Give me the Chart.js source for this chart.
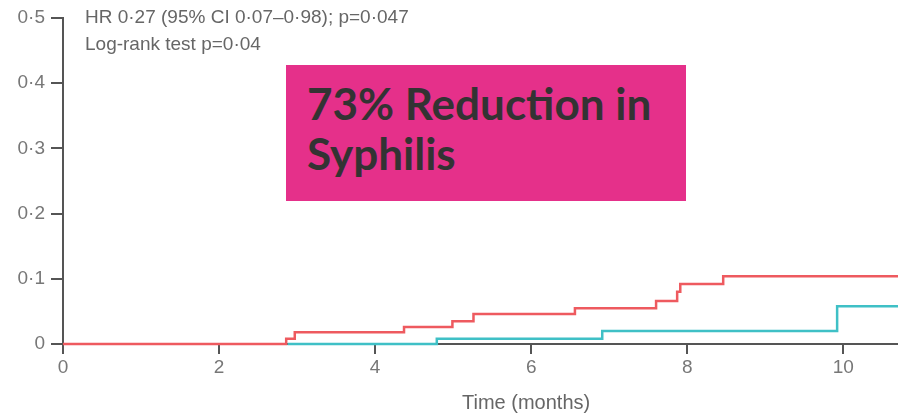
<!DOCTYPE html>
<html>
<head>
<meta charset="utf-8">
<script src="https://cdn.jsdelivr.net/npm/chart.js@4.4.1/dist/chart.umd.min.js"></script>
<style>
  html, body { margin: 0; padding: 0; background: #fff; }
  #wrap { position: relative; width: 898px; height: 414px; overflow: hidden; }
  .note { position: absolute; font-family: "Liberation Sans", Arial, sans-serif; font-size: 19px; color: #666; white-space: nowrap; line-height: 26px; }
  #box { position: absolute; left: 286px; top: 65px; width: 400px; height: 136px; background: #e5308a;
         box-sizing: border-box; padding: 13px 0 0 21px; font-family: Lato, sans-serif; font-weight: 700;
         font-size: 44px; line-height: 50px; color: #333; }
</style>
</head>
<body>
<div id="wrap">
  <canvas id="km" width="898" height="414"></canvas>
  <div class="note" style="left:85px; top:4px;">HR 0·27 (95% CI 0·07–0·98); p=0·047</div>
  <div class="note" style="left:85px; top:31px;">Log-rank test p=0·04</div>
  <div class="note" style="left:462px; top:389px; font-size:20px;">Time (months)</div>
  <div id="box">73% Reduction in<br>Syphilis</div>
</div>
<script>
// tick values and labels
const xTicks = [0, 2, 4, 6, 8, 10];
const yTicks = [0, 0.1, 0.2, 0.3, 0.4, 0.5];
const yTickLabels = ['0', '0·1', '0·2', '0·3', '0·4', '0·5'];

// step curves: time (months) and cumulative incidence after each step
const redTimes = [0, 2.86, 2.97, 4.37, 4.99, 5.26, 6.56, 7.60, 7.87, 7.91, 8.46, 10.7];
const redValues = [0, 0.008, 0.018, 0.026, 0.035, 0.046, 0.055, 0.066, 0.080, 0.092, 0.104, 0.104];
const tealTimes = [2.88, 4.79, 6.91, 9.92, 10.7];
const tealValues = [0, 0.008, 0.020, 0.058, 0.058];

const toPoints = (xs, ys) => xs.map((x, i) => ({ x: x, y: ys[i] }));
const axisColor = '#555';
const tickFont = { family: '"Liberation Sans", Arial, sans-serif', size: 19 };

new Chart(document.getElementById('km').getContext('2d'), {
  type: 'line',
  data: {
    datasets: [
      { data: toPoints(tealTimes, tealValues), borderColor: '#3fc0c6', borderWidth: 2.5, stepped: 'before', pointRadius: 0, clip: false },
      { data: toPoints(redTimes, redValues), borderColor: '#ee5a5f', borderWidth: 2.5, stepped: 'before', pointRadius: 0, clip: false }
    ]
  },
  options: {
    responsive: false,
    animation: false,
    layout: { padding: { top: 18, right: 0, bottom: 0, left: 0 } },
    plugins: { legend: { display: false }, tooltip: { enabled: false } },
    scales: {
      x: {
        type: 'linear',
        min: 0,
        max: 10.7,
        afterBuildTicks: s => { s.ticks = xTicks.map(v => ({ value: v })); },
        afterFit: s => { s.height = 70; },
        border: { display: true, color: axisColor, width: 2 },
        grid: { drawOnChartArea: false, drawTicks: true, tickLength: 10, color: axisColor, lineWidth: 2 },
        ticks: { color: '#777', font: tickFont, padding: 2, maxRotation: 0 }
      },
      y: {
        min: 0,
        max: 0.5,
        afterBuildTicks: s => { s.ticks = yTicks.map(v => ({ value: v })); },
        afterFit: s => { s.width = 63; },
        border: { display: true, color: axisColor, width: 2 },
        grid: { drawOnChartArea: false, drawTicks: true, tickLength: 12, color: axisColor, lineWidth: 2 },
        ticks: { color: '#777', font: tickFont, padding: 6, callback: (v, i) => yTickLabels[i] }
      }
    }
  }
});
</script>
</body>
</html>
